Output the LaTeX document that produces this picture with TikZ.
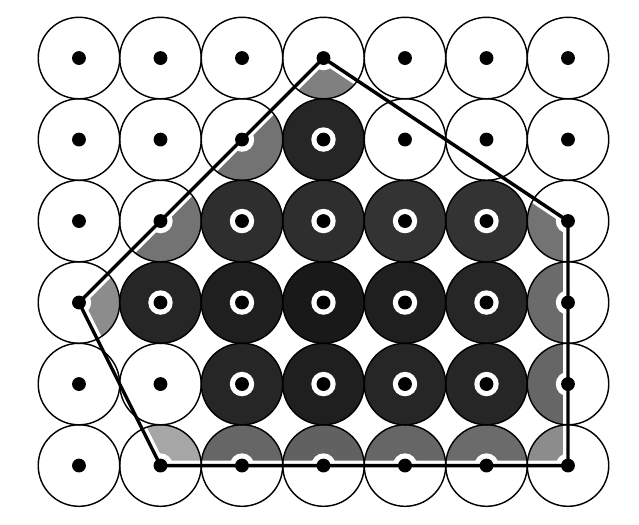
\documentclass[tikz,border=0pt]{standalone}
\usepackage{tikz}

\begin{document}
\begin{tikzpicture}[x=1cm,y=1cm,
  cell/.style={draw=black,line width=0.5pt},
  hull/.style={draw=black,line width=1.2pt,line join=miter},
  dot/.style={circle,fill=black,inner sep=0pt,minimum size=0.17cm}]

% 边界
\useasboundingbox (-0.969,0.712) rectangle (6.871,-5.724);

% 参数
\pgfmathsetmacro{\R}{0.5}
\pgfmathsetmacro{\H}{0.15}

% 格点
\foreach \i in {0,...,6}
  \foreach \j in {0,...,5}
    \coordinate (c-\i-\j) at (\i,-\j);

% 多边形内部的阴影（圆心周围留白环）
\begin{scope}
  \clip (c-3-0) -- (c-6-2) -- (c-6-5) -- (c-1-5) -- (c-0-3) -- cycle;
  \foreach \i/\j/\k in {3/0/50, 2/1/55, 3/1/85,
      1/2/55, 2/2/82, 3/2/82, 4/2/80, 5/2/80, 6/2/55,
      0/3/45, 1/3/85, 2/3/88, 3/3/90, 4/3/88, 5/3/85, 6/3/58,
      2/4/85, 3/4/88, 4/4/85, 5/4/85, 6/4/60,
      1/5/35, 2/5/60, 3/5/62, 4/5/60, 5/5/58, 6/5/45}{
    \fill[black!\k] (c-\i-\j) circle (\R);
    \fill[white] (c-\i-\j) circle (\H);
  }
  % 边线内侧的白边
  \draw[white,line width=3.4pt,line join=miter]
    (c-3-0) -- (c-6-2) -- (c-6-5) -- (c-1-5) -- (c-0-3) -- cycle;
\end{scope}

% 圆
\foreach \i in {0,...,6}
  \foreach \j in {0,...,5}
    \draw[cell] (c-\i-\j) circle (\R);

% 多边形
\draw[hull] (c-3-0) -- (c-6-2) -- (c-6-5) -- (c-1-5) -- (c-0-3) -- cycle;

% 圆心
\foreach \i in {0,...,6}
  \foreach \j in {0,...,5}
    \node[dot] (p-\i-\j) at (c-\i-\j) {};

\end{tikzpicture}
\end{document}
